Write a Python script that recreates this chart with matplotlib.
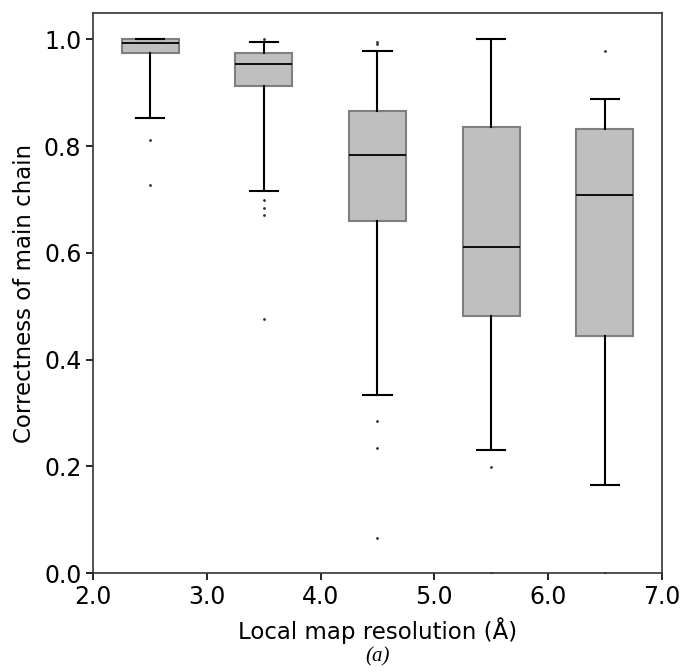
"""Box plot of main-chain correctness against local map resolution."""

import matplotlib

matplotlib.use("Agg")
import matplotlib.pyplot as plt

# one box per resolution bin (bin centres in Angstrom)
positions = [2.5, 3.5, 4.5, 5.5, 6.5]
medians = [0.994, 0.954, 0.783, 0.611, 0.708]
q1 = [0.975, 0.912, 0.660, 0.482, 0.444]
q3 = [1.000, 0.974, 0.866, 0.836, 0.833]
whisker_lo = [0.853, 0.716, 0.333, 0.230, 0.166]
whisker_hi = [1.000, 0.995, 0.979, 1.000, 0.888]
fliers = [
    [0.811, 0.727],
    [1.000, 0.700, 0.684, 0.672, 0.476],
    [0.996, 0.992, 0.285, 0.235, 0.066],
    [0.199, 0.0],
    [0.979, 0.0],
]

x_ticks = [2.0, 3.0, 4.0, 5.0, 6.0, 7.0]
y_ticks = [0.0, 0.2, 0.4, 0.6, 0.8, 1.0]


def main():
    stats = [
        dict(med=m, q1=a, q3=b, whislo=lo, whishi=hi, fliers=f)
        for m, a, b, lo, hi, f in zip(medians, q1, q3, whisker_lo, whisker_hi, fliers)
    ]

    fig = plt.figure(figsize=(6.84, 6.72), dpi=100)
    ax = fig.add_axes([0.1364, 0.147, 0.831, 0.834])
    ax.bxp(
        stats,
        positions=positions,
        widths=0.5,
        patch_artist=True,
        boxprops=dict(facecolor="#bfbfbf", edgecolor="#7f7f7f", linewidth=1.5),
        whiskerprops=dict(color="black", linewidth=1.5),
        capprops=dict(color="black", linewidth=1.5),
        medianprops=dict(color="black", linewidth=1.3),
        flierprops=dict(marker=".", markersize=2, markerfacecolor="#333333",
                        markeredgecolor="#333333", linestyle="none"),
    )

    ax.set_xlim(2.0, 7.0)
    ax.set_ylim(0.0, 1.05)
    ax.set_xticks(x_ticks)
    ax.set_xticklabels([f"{t:.1f}" for t in x_ticks])
    ax.set_yticks(y_ticks)
    ax.set_yticklabels([f"{t:.1f}" for t in y_ticks])
    ax.tick_params(labelsize=17, length=5, width=1.2)
    for spine in ax.spines.values():
        spine.set_linewidth(1.2)
        spine.set_color("#333333")

    ax.set_xlabel("Local map resolution (Å)", fontsize=16.5, labelpad=6)
    ax.set_ylabel("Correctness of main chain", fontsize=16.5, labelpad=6)

    fig.text(0.552, 0.023, "(a)", fontsize=15, style="italic",
             family="Liberation Serif", ha="center", va="center")

    fig.savefig("out.png", dpi=100)


if __name__ == "__main__":
    main()
